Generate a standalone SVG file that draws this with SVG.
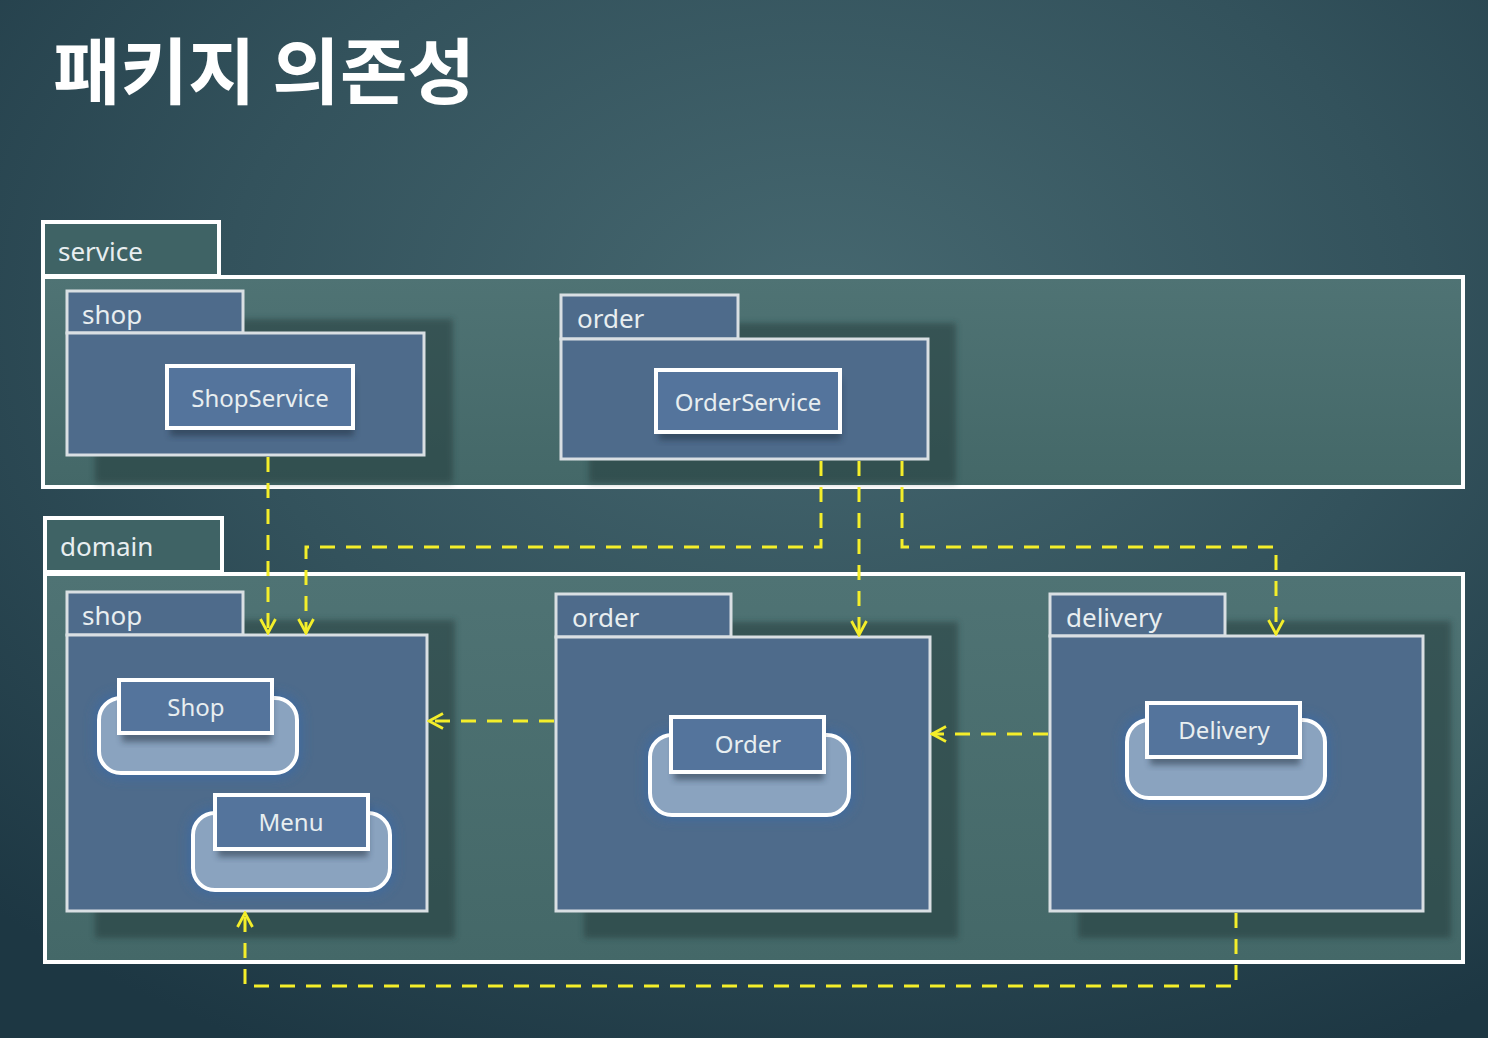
<svg xmlns="http://www.w3.org/2000/svg" width="1488" height="1038" viewBox="0 0 1488 1038">
<defs>
<radialGradient id="bg" cx="0.55" cy="0.3" r="0.8">
<stop offset="0" stop-color="#466870"/>
<stop offset="0.5" stop-color="#33525c"/>
<stop offset="1" stop-color="#1d3743"/>
</radialGradient>
<linearGradient id="outerFill" x1="0" y1="0" x2="0" y2="1">
<stop offset="0" stop-color="#4f7374"/>
<stop offset="1" stop-color="#446868"/>
</linearGradient>
<filter id="blur" x="-10%" y="-10%" width="120%" height="120%"><feGaussianBlur stdDeviation="3"/></filter>
<filter id="glow" x="-20%" y="-30%" width="140%" height="160%"><feGaussianBlur stdDeviation="6"/></filter>
<marker id="arr" viewBox="0 0 18 18" refX="16" refY="9" markerWidth="18" markerHeight="18" markerUnits="userSpaceOnUse" orient="auto">
<path d="M2,1.5 L16,9 L2,16.5" fill="none" stroke="#f4ee2a" stroke-width="2.8"/>
</marker>
<style>
.title{font-family:"Noto Sans CJK KR","Noto Sans",sans-serif;font-weight:700;font-size:72px;fill:#ffffff}
.lbl{font-family:"Noto Sans","DejaVu Sans",sans-serif;font-size:26px;fill:#e8eef0}
.cls{font-family:"Noto Sans","DejaVu Sans",sans-serif;font-size:24px;fill:#e8eef0;text-anchor:middle;dominant-baseline:central}
.outer{fill:url(#outerFill);stroke:#ffffff;stroke-width:4}
.outerTab{fill:#3f6365;stroke:#ffffff;stroke-width:4}
.pkg{fill:#4e6b8b;stroke:#d9dfe3;stroke-width:3}
.shadow{fill:#1c3033;opacity:0.45;filter:url(#blur)}
.cbox{fill:#54749c;stroke:#ffffff;stroke-width:4}
.crnd{fill:#8aa3bf;stroke:#ffffff;stroke-width:4}
.cglow{fill:#3a6aa6;opacity:0.8;filter:url(#glow)}
.cshadow{fill:#1a2a3a;opacity:0.5;filter:url(#blur)}
.dep{fill:none;stroke:#f4ee2a;stroke-width:3;stroke-dasharray:15 11}
</style>
</defs>
<rect x="0" y="0" width="1488" height="1038" fill="url(#bg)"/>
<text class="title" x="53" y="98" textLength="422" lengthAdjust="spacingAndGlyphs">패키지 의존성</text>

<g id="service">
<rect class="outerTab" x="43" y="222" width="176" height="54"/>
<rect class="outer" x="43" y="277" width="1420" height="210"/>
<text class="lbl" x="58" y="261">service</text>
</g>

<g id="service-shop">
<rect class="shadow" x="95" y="319" width="358" height="164"/>
<rect class="pkg" x="67" y="291" width="176" height="42"/>
<rect class="pkg" x="67" y="333" width="357" height="122"/>
<text class="lbl" x="82" y="324">shop</text>
</g>
<g id="ShopService">
<rect class="cshadow" x="170" y="376" width="184" height="60"/>
<rect class="cbox" x="167" y="366" width="186" height="62"/>
<text class="cls" x="260" y="397">ShopService</text>
</g>

<g id="service-order">
<rect class="shadow" x="589" y="323" width="367" height="160"/>
<rect class="pkg" x="561" y="295" width="177" height="44"/>
<rect class="pkg" x="561" y="339" width="367" height="120"/>
<text class="lbl" x="577" y="328">order</text>
</g>
<g id="OrderService">
<rect class="cshadow" x="659" y="380" width="182" height="60"/>
<rect class="cbox" x="656" y="370" width="184" height="62"/>
<text class="cls" x="748" y="401">OrderService</text>
</g>

<g id="domain">
<rect class="outerTab" x="45" y="518" width="177" height="54"/>
<rect class="outer" x="45" y="574" width="1418" height="388"/>
<text class="lbl" x="60" y="556">domain</text>
</g>

<g id="domain-shop">
<rect class="shadow" x="95" y="620" width="360" height="318"/>
<rect class="pkg" x="67" y="592" width="176" height="43"/>
<rect class="pkg" x="67" y="635" width="360" height="276"/>
<text class="lbl" x="82" y="625">shop</text>
</g>
<g id="Shop">
<rect class="cglow" x="95" y="694" width="206" height="84" rx="24"/>
<rect class="crnd" x="99" y="698" width="198" height="75" rx="22"/>
<rect class="cshadow" x="122" y="690" width="150" height="52"/>
<rect class="cbox" x="119" y="680" width="153" height="53"/>
<text class="cls" x="196" y="706">Shop</text>
</g>
<g id="Menu">
<rect class="cglow" x="189" y="809" width="205" height="85" rx="24"/>
<rect class="crnd" x="193" y="813" width="197" height="77" rx="22"/>
<rect class="cshadow" x="218" y="805" width="150" height="52"/>
<rect class="cbox" x="215" y="795" width="153" height="54"/>
<text class="cls" x="291" y="821">Menu</text>
</g>

<g id="domain-order">
<rect class="shadow" x="584" y="622" width="374" height="316"/>
<rect class="pkg" x="556" y="594" width="175" height="43"/>
<rect class="pkg" x="556" y="637" width="374" height="274"/>
<text class="lbl" x="572" y="627">order</text>
</g>
<g id="Order">
<rect class="cglow" x="646" y="731" width="207" height="88" rx="24"/>
<rect class="crnd" x="650" y="735" width="199" height="80" rx="22"/>
<rect class="cshadow" x="674" y="727" width="150" height="53"/>
<rect class="cbox" x="671" y="717" width="153" height="55"/>
<text class="cls" x="748" y="743">Order</text>
</g>

<g id="domain-delivery">
<rect class="shadow" x="1078" y="621" width="373" height="317"/>
<rect class="pkg" x="1050" y="594" width="175" height="42"/>
<rect class="pkg" x="1050" y="636" width="373" height="275"/>
<text class="lbl" x="1066" y="627">delivery</text>
</g>
<g id="Delivery">
<rect class="cglow" x="1123" y="716" width="206" height="86" rx="24"/>
<rect class="crnd" x="1127" y="720" width="198" height="78" rx="22"/>
<rect class="cshadow" x="1150" y="713" width="150" height="52"/>
<rect class="cbox" x="1147" y="703" width="153" height="54"/>
<text class="cls" x="1224" y="729">Delivery</text>
</g>

<g id="connectors">
<path class="dep" d="M268,457 L268,633" marker-end="url(#arr)"/>
<path class="dep" d="M821,461 L821,547 L306,547 L306,633" marker-end="url(#arr)"/>
<path class="dep" d="M859,461 L859,635" marker-end="url(#arr)"/>
<path class="dep" d="M902,461 L902,547 L1276,547 L1276,634" marker-end="url(#arr)"/>
<path class="dep" d="M554,721 L429,721" marker-end="url(#arr)"/>
<path class="dep" d="M1048,734 L932,734" marker-end="url(#arr)"/>
<path class="dep" d="M1236,913 L1236,986 L245,986 L245,913" marker-end="url(#arr)"/>
</g>
</svg>
